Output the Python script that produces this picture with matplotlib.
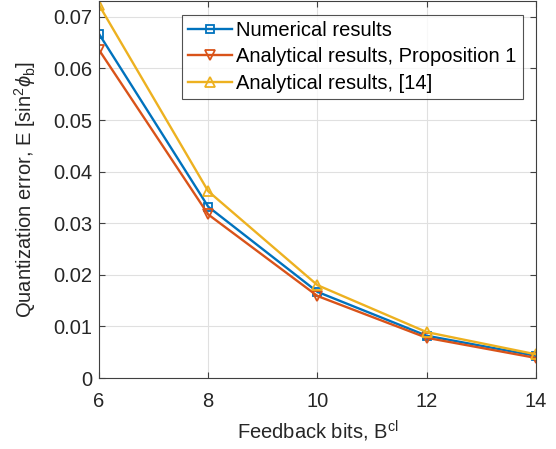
import matplotlib
matplotlib.use("Agg")
import matplotlib.pyplot as plt

plt.rcParams['font.family'] = ['Liberation Sans', 'DejaVu Sans']
plt.rcParams['mathtext.fontset'] = 'custom'
plt.rcParams['mathtext.rm'] = 'Liberation Sans'
plt.rcParams['mathtext.it'] = 'Liberation Sans:italic'

bits = [6, 8, 10, 12, 14]
numerical = [0.0667, 0.0332, 0.0167, 0.0082, 0.0043]
prop1 = [0.0636, 0.0317, 0.0159, 0.0078, 0.0039]
ref14 = [0.0723, 0.0362, 0.0180, 0.0089, 0.0046]
labels = ['Numerical results', 'Analytical results, Proposition 1', 'Analytical results, [14]']
colors = ['#0072BD', '#D95319', '#EDB120']
markers = ['s', 'v', '^']

FS = 14.5
fig = plt.figure(figsize=(5.56, 4.49), dpi=100)
ax = fig.add_axes([0.178, 0.158, 0.786, 0.839])

for y, lab, c, m in zip([numerical, prop1, ref14], labels, colors, markers):
    ax.plot(bits, y, color=c, marker=m, markersize=7.5 if m != 's' else 5.5,
            markerfacecolor='none', markeredgewidth=1.3, linewidth=1.7, label=lab)

ax.set_xlim(6, 14)
ax.set_ylim(0, 0.073)
ax.set_xticks([6, 8, 10, 12, 14])
ax.set_yticks([0, 0.01, 0.02, 0.03, 0.04, 0.05, 0.06, 0.07])
ax.set_yticklabels(['0', '0.01', '0.02', '0.03', '0.04', '0.05', '0.06', '0.07'])
ax.grid(True, color='#e0e0e0', linewidth=0.8)
ax.set_axisbelow(True)
ax.tick_params(direction='in', labelsize=FS, labelcolor='#262626', color='#404040', length=4,
               top=True, right=True)
ax.tick_params(axis='x', pad=10)
ax.tick_params(axis='y', pad=5)
for s in ax.spines.values():
    s.set_color('#404040')
    s.set_linewidth(0.8)

ax.set_xlabel(r'Feedback bits, B$^{\mathrm{cl}}$', fontsize=FS, color='#262626', labelpad=6)
ax.set_ylabel(r'Quantization error, E [sin$^2\phi_{\mathrm{b}}$]', fontsize=FS, color='#262626', labelpad=11)

leg = ax.legend(loc='upper right', bbox_to_anchor=(0.970, 0.965), borderaxespad=0.0,
                fontsize=FS, frameon=True, fancybox=False, edgecolor='#262626',
                handlelength=2.2, borderpad=0.3, labelspacing=0.38, handletextpad=0.2)
leg.get_frame().set_linewidth(0.8)

fig.savefig('out.png', dpi=100)
